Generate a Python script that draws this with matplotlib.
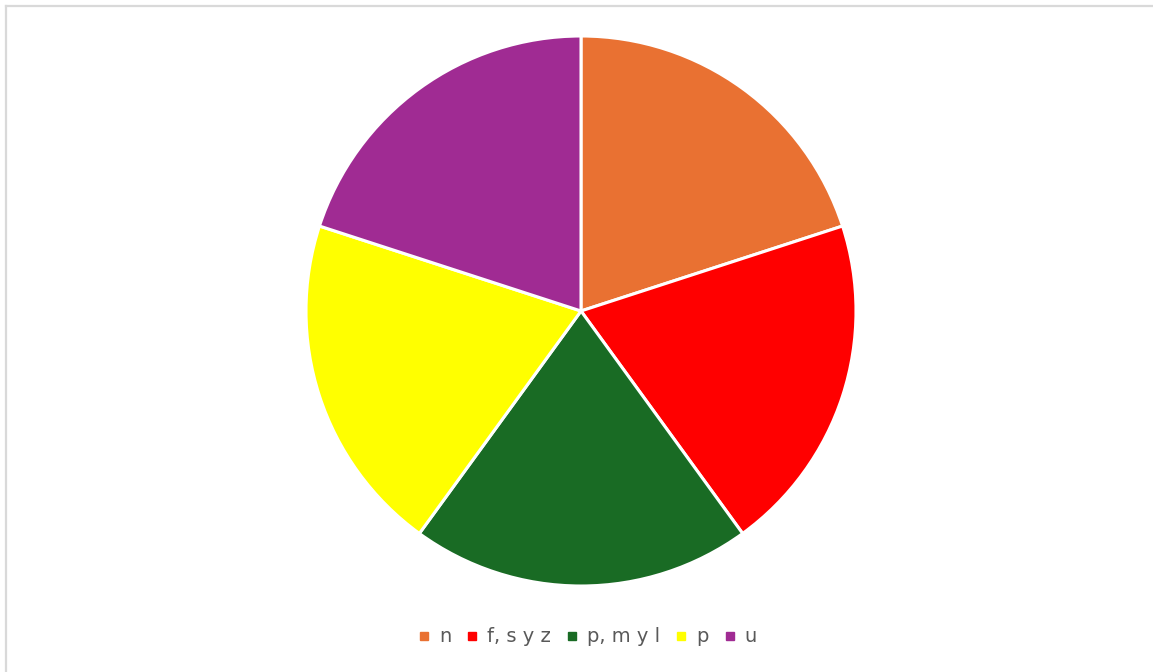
import matplotlib
matplotlib.use("Agg")
import matplotlib.pyplot as plt
from matplotlib.lines import Line2D

labels = ["n", "f, s y z", "p, m y l", "p", "u"]
values = [1, 1, 1, 1, 1]
colors = ["#E97132", "#FF0000", "#196B24", "#FFFF00", "#A02B93"]

W, H = 1153, 672
fig = plt.figure(figsize=(W / 100, H / 100), dpi=100)
fig.patch.set_facecolor("white")

cx, cy, r = 581, 311, 275
ax = fig.add_axes([(cx - r) / W, (H - cy - r) / H, 2 * r / W, 2 * r / H])
ax.pie(values, colors=colors, startangle=90, counterclock=False, radius=1,
       wedgeprops=dict(edgecolor="white", linewidth=2.2))
ax.set_xlim(-1, 1)
ax.set_ylim(-1, 1)
ax.set_aspect("equal")
ax.axis("off")

handles = [Line2D([0], [0], marker="s", linestyle="none", markersize=6.3,
                  markerfacecolor=c, markeredgecolor=c) for c in colors]
fig.legend(handles, labels, loc="center", bbox_to_anchor=(588 / W, 1 - 637 / H),
           ncol=5, frameon=False, fontsize=14, labelcolor="#595959",
           handletextpad=0.5, columnspacing=0.85, handlelength=0.5)

# frame border (left and top visible)
fig.add_artist(Line2D([6 / W, 6 / W], [0, 1 - 6 / H], color="#D9D9D9", linewidth=1.6,
                      transform=fig.transFigure))
fig.add_artist(Line2D([6 / W, 1], [1 - 6 / H, 1 - 6 / H], color="#D9D9D9", linewidth=1.6,
                      transform=fig.transFigure))

fig.savefig("out.png", dpi=100)
